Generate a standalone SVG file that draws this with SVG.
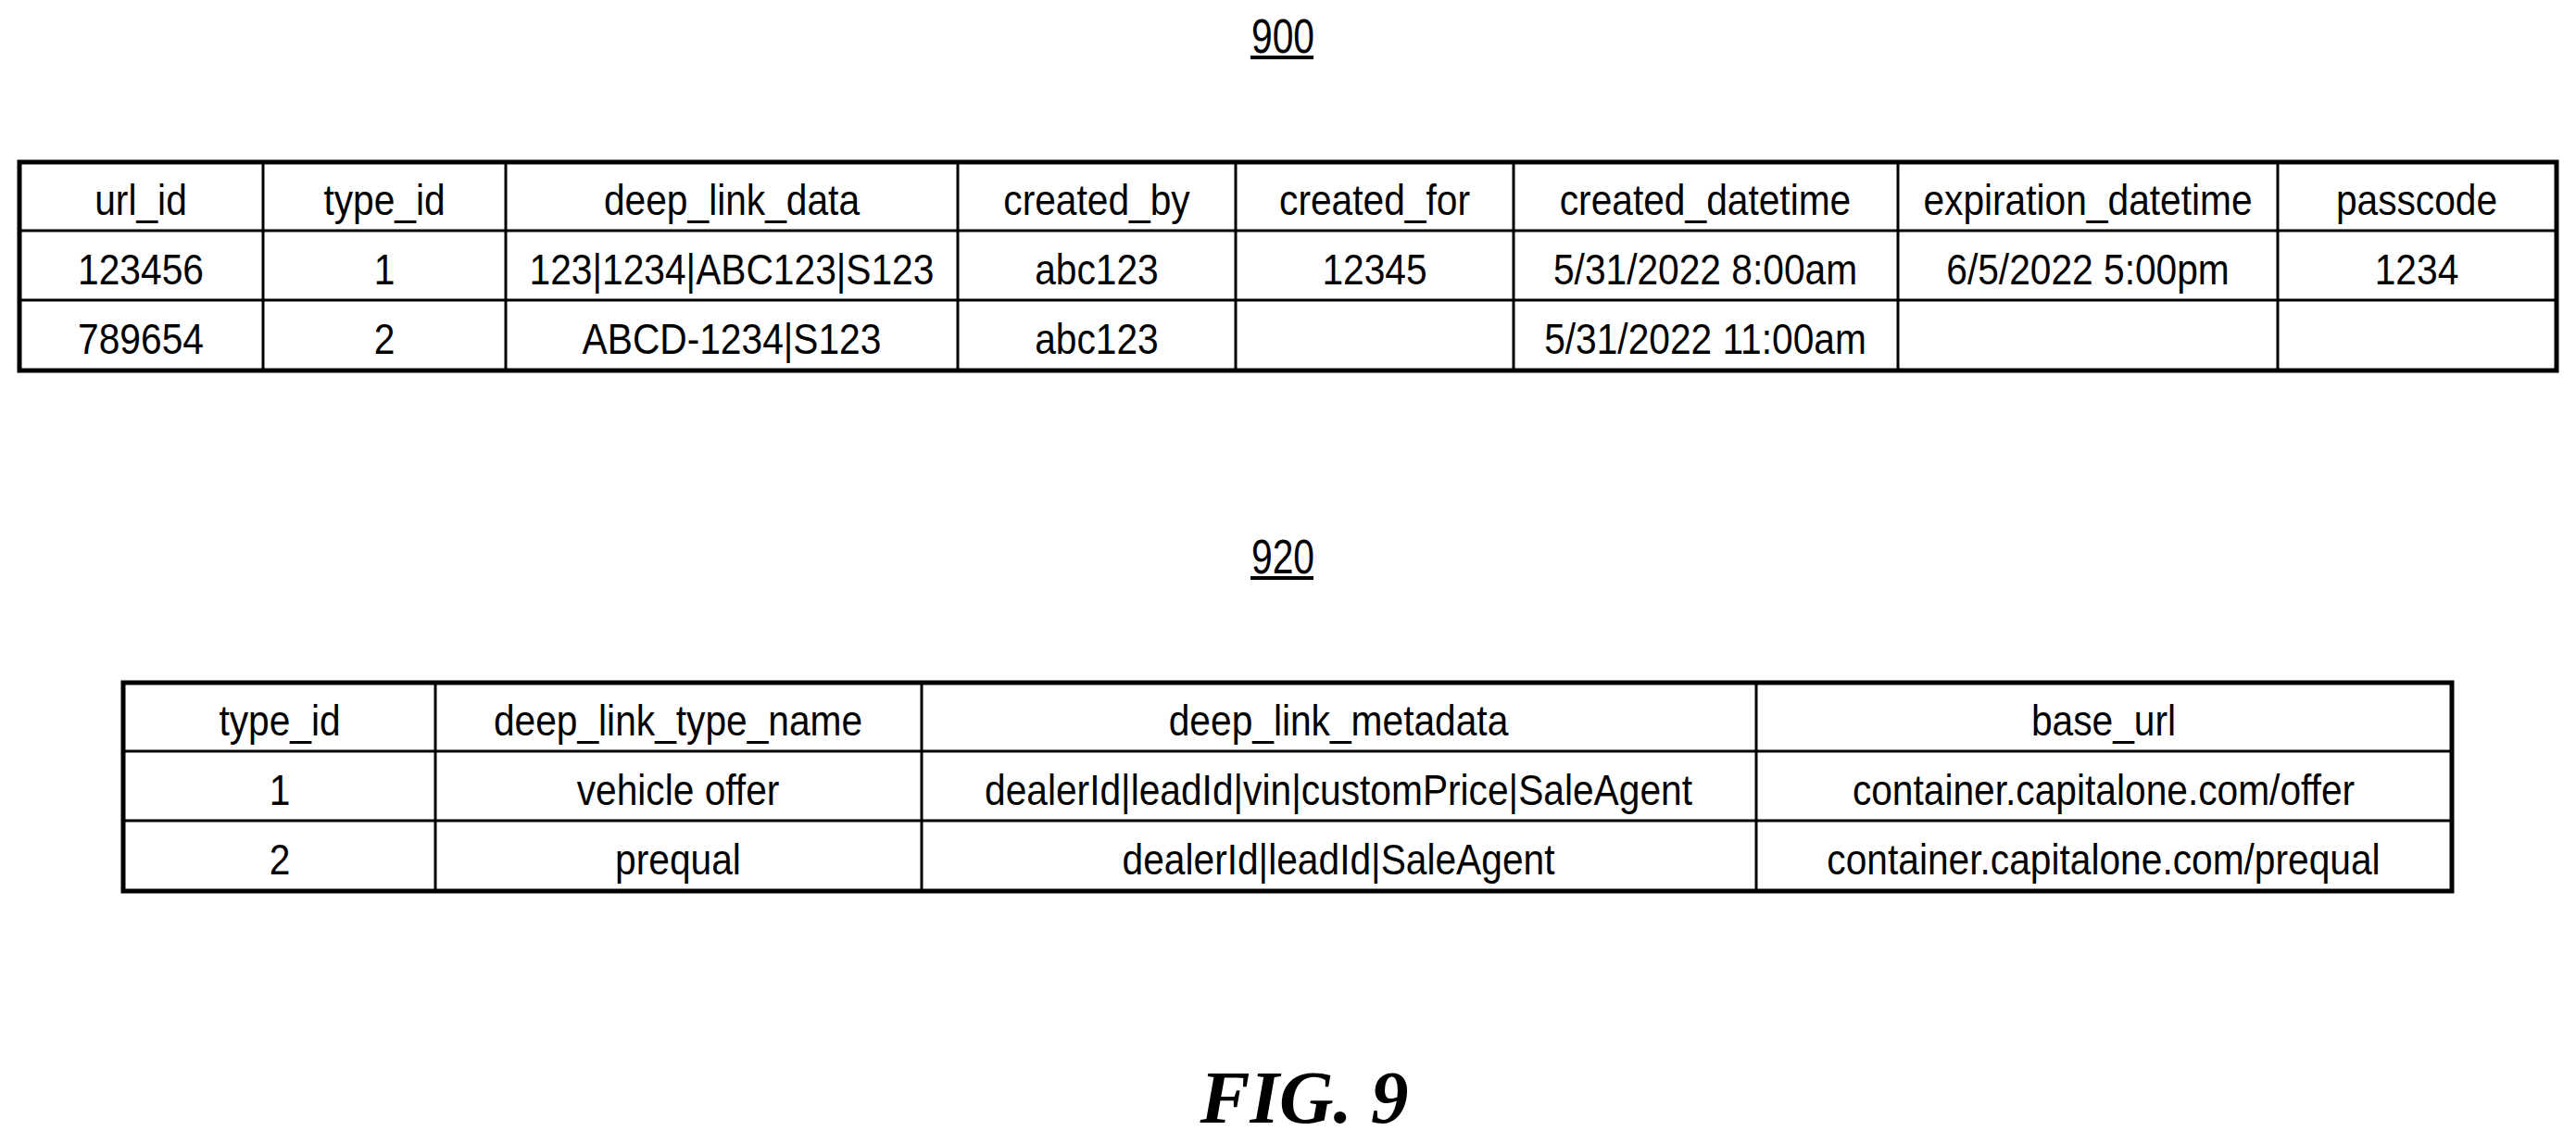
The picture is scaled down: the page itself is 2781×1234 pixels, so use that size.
<svg xmlns="http://www.w3.org/2000/svg" width="2781" height="1234" viewBox="0 0 2781 1234">
<style>
.t{font-family:"Liberation Sans",Arial,sans-serif;font-size:46px;text-anchor:middle;fill:#000}
.b{fill:none;stroke:#000;stroke-width:5}
.g{stroke:#000;stroke-width:3}
.lbl{font-family:"Liberation Sans",Arial,sans-serif;font-size:51px;text-anchor:middle}
</style>
<rect width="2781" height="1234" fill="#fff"/>
<g id="label900"><text class="lbl" transform="translate(1385,57) scale(0.8,1)">900</text><rect x="1350" y="60" width="68" height="4"/></g>
<g id="table900">
<rect class="b" x="21" y="175" width="2739" height="225"/>
<line class="g" x1="21" y1="249" x2="2760" y2="249" stroke-width="5"/>
<line class="g" x1="21" y1="324" x2="2760" y2="324" stroke-width="5"/>
<g class="g"><line x1="284" y1="175" x2="284" y2="400"/><line x1="546" y1="175" x2="546" y2="400"/><line x1="1034" y1="175" x2="1034" y2="400"/><line x1="1334" y1="175" x2="1334" y2="400"/><line x1="1634" y1="175" x2="1634" y2="400"/><line x1="2049" y1="175" x2="2049" y2="400"/><line x1="2459" y1="175" x2="2459" y2="400"/></g>
<g class="t">
<text transform="translate(152,232) scale(0.885,1)">url_id</text>
<text transform="translate(415,232) scale(0.885,1)">type_id</text>
<text transform="translate(790,232) scale(0.885,1)">deep_link_data</text>
<text transform="translate(1184,232) scale(0.885,1)">created_by</text>
<text transform="translate(1484,232) scale(0.885,1)">created_for</text>
<text transform="translate(1841,232) scale(0.885,1)">created_datetime</text>
<text transform="translate(2254,232) scale(0.885,1)">expiration_datetime</text>
<text transform="translate(2609,232) scale(0.885,1)">passcode</text>
<text transform="translate(152,307) scale(0.885,1)">123456</text>
<text transform="translate(415,307) scale(0.885,1)">1</text>
<text transform="translate(790,307) scale(0.885,1)">123|1234|ABC123|S123</text>
<text transform="translate(1184,307) scale(0.885,1)">abc123</text>
<text transform="translate(1484,307) scale(0.885,1)">12345</text>
<text transform="translate(1841,307) scale(0.885,1)">5/31/2022 8:00am</text>
<text transform="translate(2254,307) scale(0.885,1)">6/5/2022 5:00pm</text>
<text transform="translate(2609,307) scale(0.885,1)">1234</text>
<text transform="translate(152,382) scale(0.885,1)">789654</text>
<text transform="translate(415,382) scale(0.885,1)">2</text>
<text transform="translate(790,382) scale(0.885,1)">ABCD-1234|S123</text>
<text transform="translate(1184,382) scale(0.885,1)">abc123</text>
<text transform="translate(1841,382) scale(0.885,1)">5/31/2022 11:00am</text>
</g>
</g>
<g id="label920"><text class="lbl" transform="translate(1385,619) scale(0.8,1)">920</text><rect x="1350" y="622" width="68" height="4"/></g>
<g id="table920">
<rect class="b" x="133" y="737" width="2514" height="225"/>
<line class="g" x1="133" y1="811" x2="2647" y2="811" stroke-width="5"/>
<line class="g" x1="133" y1="886" x2="2647" y2="886" stroke-width="5"/>
<g class="g"><line x1="470" y1="737" x2="470" y2="962"/><line x1="995" y1="737" x2="995" y2="962"/><line x1="1896" y1="737" x2="1896" y2="962"/></g>
<g class="t">
<text transform="translate(302,794) scale(0.885,1)">type_id</text>
<text transform="translate(732,794) scale(0.885,1)">deep_link_type_name</text>
<text transform="translate(1445,794) scale(0.885,1)">deep_link_metadata</text>
<text transform="translate(2271,794) scale(0.885,1)">base_url</text>
<text transform="translate(302,869) scale(0.885,1)">1</text>
<text transform="translate(732,869) scale(0.885,1)">vehicle offer</text>
<text transform="translate(1445,869) scale(0.885,1)">dealerId|leadId|vin|customPrice|SaleAgent</text>
<text transform="translate(2271,869) scale(0.885,1)">container.capitalone.com/offer</text>
<text transform="translate(302,944) scale(0.885,1)">2</text>
<text transform="translate(732,944) scale(0.885,1)">prequal</text>
<text transform="translate(1445,944) scale(0.885,1)">dealerId|leadId|SaleAgent</text>
<text transform="translate(2271,944) scale(0.885,1)">container.capitalone.com/prequal</text>
</g>
</g>
<g id="caption"><text x="1408" y="1212" text-anchor="middle" font-family="'Liberation Serif','Times New Roman',serif" font-weight="bold" font-style="italic" font-size="81">FIG. 9</text></g>
</svg>
